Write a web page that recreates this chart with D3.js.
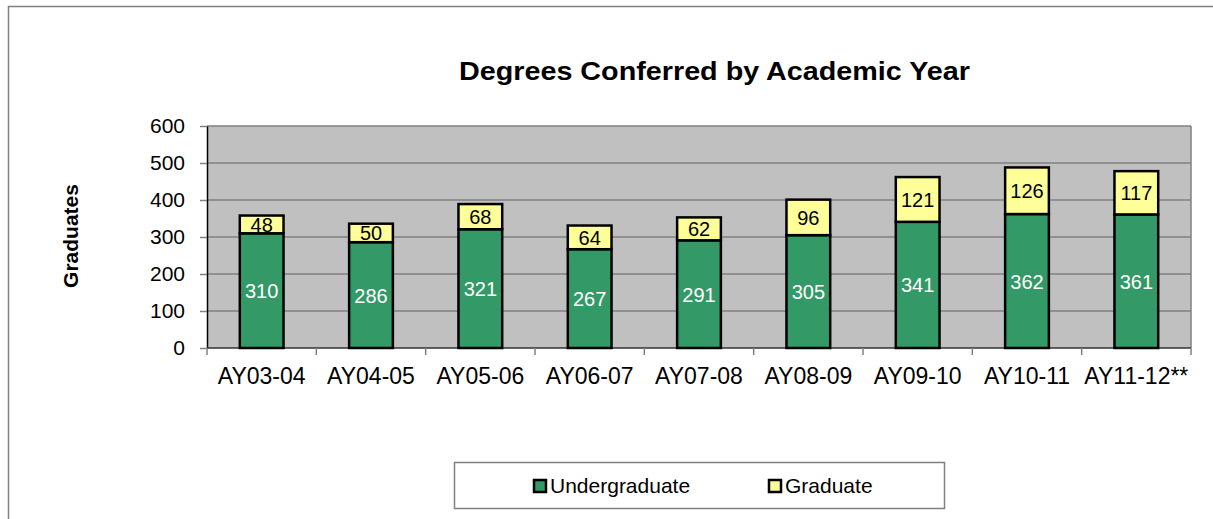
<!DOCTYPE html>
<html>
<head>
<meta charset="utf-8">
<script src="https://cdn.jsdelivr.net/npm/d3@7"></script>
<style>
  body { margin: 0; background: #fff; }
  svg { font-family: Arial, "Liberation Sans", sans-serif; }
</style>
</head>
<body>
<div id="chart"></div>
<script>
// Datos
const years = ['AY03-04','AY04-05','AY05-06','AY06-07','AY07-08','AY08-09','AY09-10','AY10-11','AY11-12**'];
const undergraduate = [310, 286, 321, 267, 291, 305, 341, 362, 361];
const graduate = [48, 50, 68, 64, 62, 96, 121, 126, 117];
const series = ['Undergraduate', 'Graduate'];
const yTicks = [0, 100, 200, 300, 400, 500, 600];

const COLOR_UNDER = '#339966', COLOR_GRAD = '#FFFF99';

const W = 1213, H = 519;
const margin = {top: 126, right: 22, bottom: 171, left: 207};
const width = W - margin.left - margin.right,
      height = H - margin.top - margin.bottom;

let svg = d3.select('#chart').append('svg')
    .attr('width', W)
    .attr('height', H);

// Marco exterior
svg.append('rect')
    .attr('x', 8.5).attr('y', 6.5)
    .attr('width', W + 10).attr('height', H + 10)
    .attr('fill', 'none').attr('stroke', '#808080').attr('stroke-width', 1.5);

// Título
svg.append('text')
    .attr('x', 459).attr('y', 80)
    .attr('textLength', 511)
    .attr('lengthAdjust', 'spacingAndGlyphs')
    .style('font-size', '25px').style('font-weight', 'bold')
    .text('Degrees Conferred by Academic Year');

let chart = svg.append('g')
    .attr('transform', 'translate(' + margin.left + ',' + margin.top + ')');

let data = years.map(function(d, i) {
    return {year: d, Undergraduate: undergraduate[i], Graduate: graduate[i]};
});

// Eje X
let x = d3.scaleBand()
    .domain(years)
    .range([0, width])
    .paddingInner(0.6)
    .paddingOuter(0.3);

// Eje Y
let y = d3.scaleLinear()
    .domain([0, 600])
    .range([height, 0]);

// Fondo
chart.append('rect')
    .attr('width', width).attr('height', height)
    .attr('fill', '#C0C0C0');

// Rejilla
chart.append('g')
    .selectAll('line')
    .data(yTicks.slice(1))
    .enter().append('line')
    .attr('x1', 0).attr('x2', width)
    .attr('y1', d => y(d)).attr('y2', d => y(d))
    .attr('stroke', '#808080').attr('stroke-width', 1.5);

// Borde derecho del área
chart.append('line')
    .attr('x1', width).attr('x2', width)
    .attr('y1', 0).attr('y2', height)
    .attr('stroke', '#808080').attr('stroke-width', 1.5);

// Eje Y
let yAxis = chart.append('g')
    .call(d3.axisLeft(y).tickValues(yTicks).tickSize(7).tickPadding(15).tickSizeOuter(0));
yAxis.select('.domain').attr('stroke', '#000').attr('stroke-width', 1.5);
yAxis.selectAll('.tick line').attr('stroke', '#808080').attr('stroke-width', 1.5);
yAxis.selectAll('.tick text').style('font-size', '21px').attr('fill', '#000')
    .style('font-family', 'Arial, "Liberation Sans", sans-serif');

// Eje X (ticks entre categorías)
let xBounds = d3.range(years.length + 1).map(i => i * width / years.length);
let xAxisG = chart.append('g').attr('transform', 'translate(0,' + height + ')');
xAxisG.append('line')
    .attr('x1', 0).attr('x2', width)
    .attr('stroke', '#333').attr('stroke-width', 1.5);
xAxisG.selectAll('.xt')
    .data(xBounds)
    .enter().append('line')
    .attr('x1', d => d).attr('x2', d => d)
    .attr('y1', 0).attr('y2', 7)
    .attr('stroke', '#808080').attr('stroke-width', 1.5);
xAxisG.selectAll('.xl')
    .data(years)
    .enter().append('text')
    .attr('x', d => x(d) + x.bandwidth() / 2)
    .attr('y', 36)
    .attr('text-anchor', 'middle')
    .style('font-size', '23px')
    .text(d => d);

// Título eje Y
svg.append('text')
    .attr('transform', 'translate(78,236) rotate(-90)')
    .attr('text-anchor', 'middle')
    .style('font-size', '21px').style('font-weight', 'bold')
    .text('Graduates');

// Barras apiladas
let color = d3.scaleOrdinal().domain(series).range([COLOR_UNDER, COLOR_GRAD]);
let stacked = d3.stack().keys(series)(data);

let layers = chart.selectAll('.layer')
    .data(stacked)
    .enter().append('g')
    .attr('fill', d => color(d.key));

layers.selectAll('rect')
    .data(d => d)
    .enter().append('rect')
    .attr('x', d => x(d.data.year))
    .attr('y', d => y(d[1]))
    .attr('width', x.bandwidth())
    .attr('height', d => y(d[0]) - y(d[1]))
    .attr('stroke', '#000').attr('stroke-width', 2.5);

// Etiquetas
stacked.forEach(function(layer) {
    chart.append('g')
        .selectAll('text')
        .data(layer)
        .enter().append('text')
        .attr('x', d => x(d.data.year) + x.bandwidth() / 2)
        .attr('y', d => (y(d[0]) + y(d[1])) / 2 + 7.5)
        .attr('text-anchor', 'middle')
        .attr('fill', layer.key === 'Undergraduate' ? '#fff' : '#000')
        .style('font-size', '20px')
        .text(d => d.data[layer.key]);
});

// Leyenda
let legend = svg.append('g');
legend.append('rect')
    .attr('x', 454.5).attr('y', 462.5)
    .attr('width', 490).attr('height', 46)
    .attr('fill', '#fff').attr('stroke', '#808080').attr('stroke-width', 1.5);

let legendX = [534, 769];
series.forEach(function(s, i) {
    legend.append('rect')
        .attr('x', legendX[i]).attr('y', 480)
        .attr('width', 12).attr('height', 12)
        .attr('fill', color(s)).attr('stroke', '#000').attr('stroke-width', 2.5);
    legend.append('text')
        .attr('x', legendX[i] + 16).attr('y', 493)
        .style('font-size', '21px')
        .text(s);
});
</script>
</body>
</html>
